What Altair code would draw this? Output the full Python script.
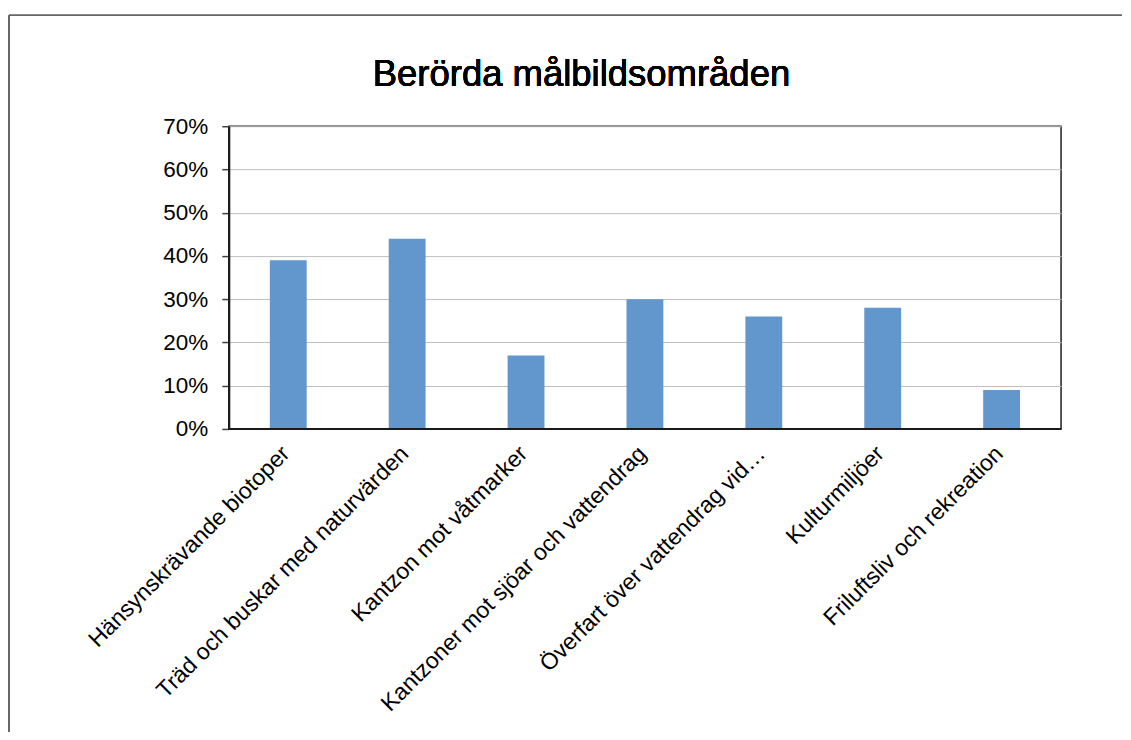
import altair as alt
import pandas as pd

categories = [
    "Hänsynskrävande biotoper",
    "Träd och buskar med naturvärden",
    "Kantzon mot våtmarker",
    "Kantzoner mot sjöar och vattendrag",
    "Överfart över vattendrag vid…",
    "Kulturmiljöer",
    "Friluftsliv och rekreation",
]
values = [0.39, 0.44, 0.17, 0.30, 0.26, 0.28, 0.09]
y_ticks = [0, 0.1, 0.2, 0.3, 0.4, 0.5, 0.6, 0.7]
title_text = "Berörda målbildsområden"

df = pd.DataFrame({"cat": categories, "val": values})
FONT = "Liberation Sans"

bars = alt.Chart(df).mark_bar(color="#6197CC").encode(
    x=alt.X(
        "cat:N",
        sort=None,
        title=None,
        scale=alt.Scale(paddingInner=0.69, paddingOuter=0.345),
        axis=alt.Axis(
            labelAngle=-45,
            labelFontSize=23,
            labelFont=FONT,
            labelColor="#000000",
            labelPadding=13,
            labelOffset=-10,
            ticks=False,
            domain=False,
            labelLimit=0,
            labelOverlap=False,
        ),
    ),
    y=alt.Y(
        "val:Q",
        title=None,
        scale=alt.Scale(domain=[0, 0.7], nice=False),
        axis=alt.Axis(
            values=y_ticks,
            format=".0%",
            labelFontSize=22.5,
            labelFont=FONT,
            labelColor="#000000",
            labelPadding=14,
            tickSize=7,
            tickColor="#404040",
            tickWidth=1.5,
            domainColor="#1a1a1a",
            domainWidth=2,
            grid=True,
            gridColor="#BFBFBF",
            gridWidth=1,
        ),
    ),
)

base_axis = alt.Chart(df).mark_rule(color="#1a1a1a", strokeWidth=2).encode(
    y=alt.value(303), x=alt.value(0), x2=alt.value(833)
)

title = alt.Chart(df).mark_text(
    text=title_text, font=FONT, fontSize=36.5, fontWeight="normal", color="#000000",
    align="center", baseline="alphabetic"
).encode(x=alt.value(353), y=alt.value(-40))

frame_top = alt.Chart(df).mark_rule(color="#666666", strokeWidth=1).encode(
    x=alt.value(-220), x2=alt.value(894), y=alt.value(-111)
)
frame_left = alt.Chart(df).mark_rule(color="#666666", strokeWidth=1).encode(
    x=alt.value(-220), y=alt.value(-111), y2=alt.value(606)
)

chart = alt.layer(bars, base_axis, title, frame_top, frame_left).properties(
    width=833,
    height=303,
    padding={"left": 0, "top": 6, "right": 0, "bottom": 0},
).configure_view(stroke="#222222", strokeWidth=1.5)

chart.save("out.html", embed_options={"renderer": "svg", "actions": False})
